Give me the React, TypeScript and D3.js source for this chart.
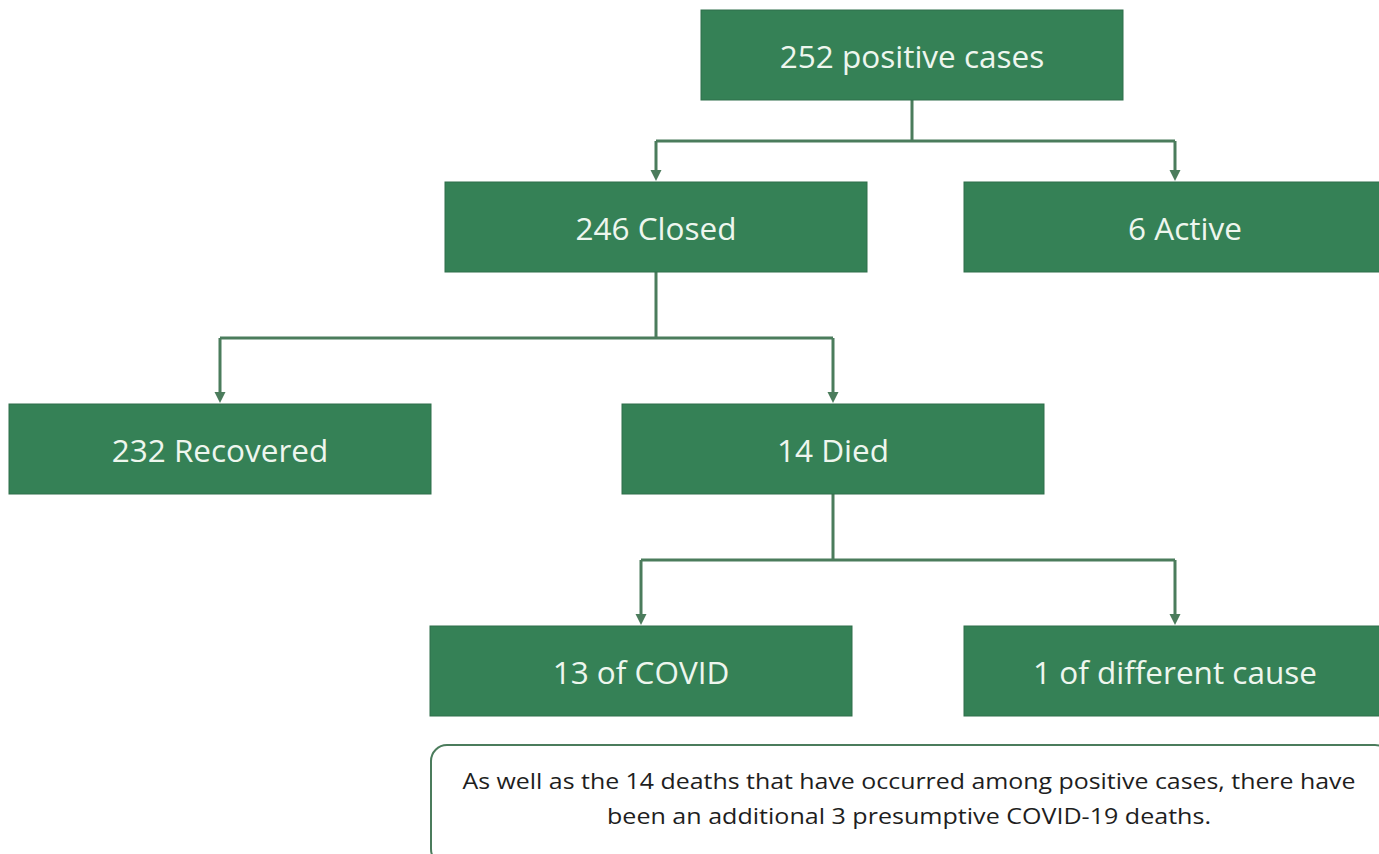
import React from "react";
import * as d3 from "d3";

// ---- data ----
const nodeIds = ["positive", "closed", "active", "recovered", "died", "covid", "other"];
const nodeCounts = [252, 246, 6, 232, 14, 13, 1];
const nodeLabels = ["positive cases", "Closed", "Active", "Recovered", "Died", "of COVID", "of different cause"];
const nodeParents = [null, "positive", "positive", "closed", "closed", "died", "died"];
const noteLines = [
  "As well as the 14 deaths that have occurred among positive cases, there have",
  "been an additional 3 presumptive COVID-19 deaths.",
];

// ---- layout (positions, not data) ----
const W = 1379;
const H = 854;
const BOX_W = 422;
const BOX_H = 90;
const levelOf: Record<string, number> = { positive: 0, closed: 1, active: 1, recovered: 2, died: 2, covid: 3, other: 3 };
const centerX: Record<string, number> = { positive: 912, closed: 656, active: 1175, recovered: 220, died: 833, covid: 641, other: 1175 };
const yScale = d3.scaleOrdinal<number, number>().domain([0, 1, 2, 3]).range([10, 182, 404, 626]);
const busOffset = [0, 41, 66, 66];
const noteLineWidths = [893, 604];

const FILL = "#358156";
const LINE = "#4b7c5c";
const TEXT = "#eef6ee";

export default function App() {
  const nodes = nodeIds.map((id, i) => {
    const lvl = levelOf[id];
    const cx = centerX[id];
    const y = yScale(lvl);
    return { id, label: `${nodeCounts[i]} ${nodeLabels[i]}`, parent: nodeParents[i], lvl, cx, x: cx - BOX_W / 2, y };
  });

  const links: string[] = [];
  const arrows: string[] = [];
  nodes.forEach((n) => {
    const kids = nodes.filter((k) => k.parent === n.id);
    if (!kids.length) return;
    const yb = n.y + BOX_H;
    const busY = yb + busOffset[kids[0].lvl];
    const path = d3.path();
    path.moveTo(n.cx, yb);
    path.lineTo(n.cx, busY);
    const xs = kids.map((k) => k.cx);
    path.moveTo(d3.min(xs)!, busY);
    path.lineTo(d3.max(xs)!, busY);
    kids.forEach((k) => {
      path.moveTo(k.cx, busY);
      path.lineTo(k.cx, k.y - 9);
      const a = d3.path();
      a.moveTo(k.cx - 5.5, k.y - 12);
      a.lineTo(k.cx + 5.5, k.y - 12);
      a.lineTo(k.cx, k.y - 1);
      a.closePath();
      arrows.push(a.toString());
    });
    links.push(path.toString());
  });

  const noteX = 431;
  const noteY = 745;
  const noteW = 960;
  const noteH = 120;
  const noteCx = 909;

  return (
    <svg width={W} height={H} style={{ position: "absolute", left: 0, top: 0, background: "#fff" }}>
      <rect x={0} y={0} width={W} height={H} fill="#fff" />
      {links.map((d, i) => (
        <path key={i} d={d} fill="none" stroke={LINE} strokeWidth={3} />
      ))}
      {arrows.map((d, i) => (
        <path key={"a" + i} d={d} fill={LINE} />
      ))}
      {nodes.map((n) => (
        <g key={n.id}>
          <rect x={n.x} y={n.y} width={BOX_W} height={BOX_H} fill={FILL} stroke="#2f6e4a" strokeWidth={1} />
          <text
            x={n.cx + (n.id === "active" ? 10 : 0)}
            y={n.y + BOX_H / 2}
            textAnchor="middle"
            dominantBaseline="central"
            fill={TEXT}
            fontFamily="'Open Sans', 'Noto Sans', sans-serif"
            fontSize={31.5}
          >
            {n.label}
          </text>
        </g>
      ))}
      <rect x={noteX} y={noteY} width={noteW} height={noteH} rx={16} ry={16} fill="#fff" stroke={LINE} strokeWidth={2} />
      {noteLines.map((t, i) => (
        <text
          key={i}
          x={noteCx}
          y={noteY + 35 + i * 35}
          textAnchor="middle"
          dominantBaseline="central"
          fill="#1e1e1e"
          fontFamily="'Open Sans', sans-serif"
          fontSize={22}
          textLength={noteLineWidths[i]}
          lengthAdjust="spacingAndGlyphs"
        >
          {t}
        </text>
      ))}
    </svg>
  );
}
